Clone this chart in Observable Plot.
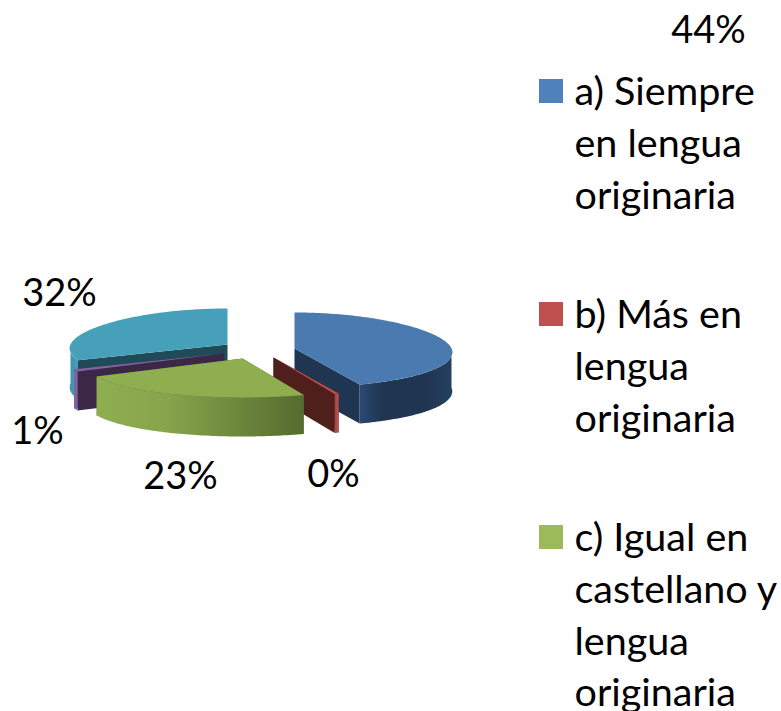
<!DOCTYPE html>
<html><head><meta charset="utf-8">
<style>html,body{margin:0;padding:0;background:#fff;overflow:hidden}svg{display:block}</style>
<script src="https://cdn.jsdelivr.net/npm/d3@7"></script>
<script src="https://cdn.jsdelivr.net/npm/@observablehq/plot@0.6"></script>
</head><body>
<script>
const categories = ["a","b","c","d","e"];
const shares = [43.8, 0.4, 23.2, 1.0, 31.6];
const percentLabels = ["44%","0%","23%","1%","32%"];
const legendNames = ["a) Siempre\nen lengua\noriginaria","b) Más en\nlengua\noriginaria","c) Igual en\ncastellano y\nlengua\noriginaria"];
const topColors = ["#4a7ab0","#c0504d","#8fae50","#8064a2","#46a0ba"];
const wallColors = ["#1f3552","#4f1f1c","#5a6e30","#3a2846","#1f4a58"];
const legendColors = ["#4f81bd","#c0504d","#9bbb59"];

// layout of the exploded slices
const centers = [[294,348],[273,357],[242,358],[223,353],[227,344]];
const labelAt = [[708,30],[333,474],[180,476],[37,431],[59,293]];
const legendX = 574, legendBoxX = 539, legendBox = 24, legendBoxMid = [91,314,537], legendTextTop = [68,291,514];
const rx = 157, ryBack = 36, ryFront = 39, depth = 39, persp = 0.1;

function pt(c, th, r, z){
  const p = -Math.cos(th);
  return {x: c[0] + rx*r*Math.sin(th)*(1+persp*p), y: c[1] + r*p*(p>0?ryFront:ryBack) + z};
}
function arc(c, a0, a1, z){
  const n = Math.max(2, Math.ceil((a1-a0)/0.02)), out=[];
  for(let i=0;i<=n;i++) out.push(pt(c, a0+(a1-a0)*i/n, 1, z));
  return out;
}
function poly(points, fill){ return Plot.line(points, {x:"x", y:"y", fill, stroke:"none", curve:"linear"}); }

const total = d3.sum(shares);
let cum = 0;
const slices = categories.map((k,i)=>{
  const a0 = cum/total*2*Math.PI; cum += shares[i];
  return {k, i, a0, a1: cum/total*2*Math.PI, c: centers[i]};
});

const grads = [
  ["g0", [[0,"#2b4a74"],[0.25,"#1f3552"],[0.7,"#1f3552"],[1,"#25405f"]]],
  ["g1", [[0,"#a04340"],[1,"#c0504d"]]],
  ["g2", [[0,"#8fae50"],[0.35,"#86a44b"],[1,"#566b2f"]]],
  ["g3", [[0,"#8064a2"],[1,"#8064a2"]]],
  ["g4", [[0,"#3f94ad"],[1,"#46a0ba"]]]
];
const defs = () => {
  const svg = d3.create("svg:g");
  const d = svg.append("defs");
  grads.forEach(([id,stops])=>{
    const g = d.append("linearGradient").attr("id",id).attr("x1",0).attr("x2",1).attr("y1",0).attr("y2",0);
    stops.forEach(([o,col])=>g.append("stop").attr("offset",o).attr("stop-color",col));
  });
  return svg.node();
};

function sliceMarks(s){
  const {c,a0,a1,i} = s, marks = [];
  const cTop={x:c[0],y:c[1]}, cBot={x:c[0],y:c[1]+depth};
  for(const a of [a0,a1]){
    const t=pt(c,a,1,0), b=pt(c,a,1,depth);
    marks.push(poly([cTop,t,b,cBot],wallColors[i]));
  }
  const f0=Math.max(a0,Math.PI/2), f1=Math.min(a1,3*Math.PI/2);
  if(f1>f0){
    marks.push(poly([...arc(c,f0,f1,0), ...arc(c,f0,f1,depth).reverse()],"url(#g"+i+")"));
  }
  marks.push(poly([cTop,...arc(c,a0,a1,0)],topColors[i]));
  return marks;
}
const order = [4,3,0,1,2];

const legendBoxes = legendNames.map((n,i)=>({x1:legendBoxX,x2:legendBoxX+legendBox,y1:legendBoxMid[i]-12,y2:legendBoxMid[i]+12,fill:legendColors[i]}));
const legendText = legendNames.map((n,i)=>({x:legendX,y:legendTextTop[i],text:n}));
const pctText = percentLabels.map((t,i)=>({x:labelAt[i][0],y:labelAt[i][1],text:t}));

const font = "Lato, Carlito, Calibri, sans-serif";
const chart = Plot.plot({
  width:781, height:711, margin:0, style:{background:"#fff",fontFamily:font},
  x:{domain:[0,781],range:[0,781],axis:null},
  y:{domain:[0,711],range:[0,711],axis:null},
  marks:[
    defs,
    ...order.flatMap(i=>sliceMarks(slices[i])),
    Plot.rect(legendBoxes,{x1:"x1",x2:"x2",y1:"y1",y2:"y2",fill:d=>d.fill}),
    Plot.text(legendText,{x:"x",y:"y",text:"text",textAnchor:"start",lineAnchor:"top",fontSize:39.5,lineHeight:1.31,fill:"#000"}),
    Plot.text(pctText,{x:"x",y:"y",text:"text",fontSize:38,fill:"#000"})
  ]
});
document.body.appendChild(chart);
</script>
</body></html>
